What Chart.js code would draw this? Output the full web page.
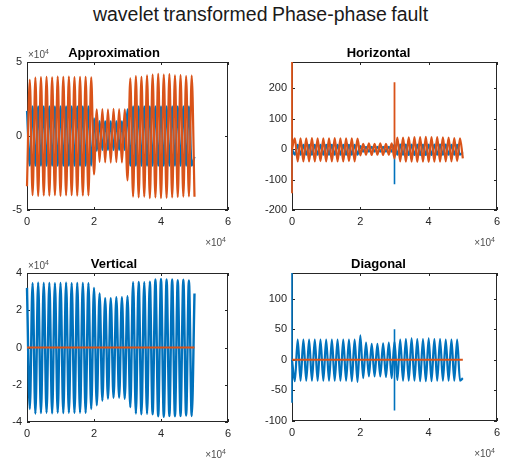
<!DOCTYPE html>
<html lang="en">
<head>
<meta charset="UTF-8">
<title>wavelet transformed Phase-phase fault</title>
<script src="https://cdn.jsdelivr.net/npm/chart.js"></script>
<style>
    body { margin: 0; background: #fff; }
    #page { position: relative; width: 521px; height: 463px; font-family: "Liberation Sans", Arial, sans-serif; }
    #mainTitle { position: absolute; left: 0; top: 5px; width: 521px; text-align: center; font-size: 19.5px; line-height: 1; color: #1a1a1a; word-spacing: -1px; }
    canvas { position: absolute; }
</style>
</head>
<body>
<div id="page">
    <div id="mainTitle">wavelet transformed Phase-phase fault</div>
    <canvas id="approxChart" width="260" height="210" style="left:0;top:40px"></canvas>
    <canvas id="horizChart" width="261" height="210" style="left:260px;top:40px"></canvas>
    <canvas id="vertChart" width="260" height="213" style="left:0;top:250px"></canvas>
    <canvas id="diagChart" width="261" height="213" style="left:260px;top:250px"></canvas>
</div>

<script>
// sample positions of each half-cycle extremum (samples)
const tHalf = [0, 833, 1667, 2500, 3333, 4167, 5000, 5833, 6667, 7500, 8333, 9167, 10000,
    10833, 11667, 12500, 13333, 14167, 15000, 15833, 16667, 17500, 18333, 19167, 20000,
    20833, 21667, 22500, 23333, 24167, 25000, 25833, 26667, 27500, 28333, 29167, 30000,
    30833, 31667, 32500, 33333, 34167, 35000, 35833, 36667, 37500, 38333, 39167, 40000,
    40833, 41667, 42500, 43333, 44167, 45000, 45833, 46667, 47500, 48333, 49167, 50000];

// Approximation
const approxOrange = [-34000, 38000, -40000, 39500, -40500, 39800, -40200, 40000, -40300, 39700, -40000, 40100,
    -40400, 39900, -40100, 40200, -40000, 39800, -40300, 40000, -40200, 39900, -40100, 39700,
    -26000, 18000, -17500, 18200, -17800, 18000, -18000, 18300, -17600, 18100, -17900, 18000,
    -30000, 39000, -41000, 40500, -41500, 40000, -41000, 41000, -42000, 41500, -41500, 42000,
    -42000, 41500, -41800, 41800, -41500, 41000, -41200, 41200, -41000, 40500, -40800, 40800, -41000];
const approxBlue = [17000, -20000, 20000, -20000, 20000, -20000, 20000, -20000, 20000, -20000, 20000, -20000,
    20000, -20000, 20000, -20000, 20000, -20000, 20000, -20000, 20000, -20000, 20000, -20000,
    12000, -10000, 10000, -9500, 10000, -9500, 10000, -9500, 10000, -9500, 10000, -9500,
    18000, -20000, 20000, -20000, 20000, -20000, 20000, -20000, 20000, -20000, 20000, -20000,
    20000, -20000, 20000, -20000, 20000, -20000, 20000, -20000, 20000, -20000, 20000, -20000, -14000];

// Horizontal
const horizOrange = [0, 36, -40, 36, -40, 36, -40, 37, -40, 36, -39, 36,
    -40, 36, -40, 37, -40, 36, -40, 36, -39, 36, -40, 35,
    -20, 18, -18, 19, -19, 18, -18, 19, -19, 18, -18, 19,
    -30, 38, -40, 38, -41, 39, -41, 40, -42, 40, -41, 41,
    -42, 40, -41, 40, -41, 39, -40, 38, -40, 37, -39, 36, -30];
const horizBlue = [0, -18, 14, -18, 14, -18, 14, -18, 14, -18, 14, -18,
    14, -18, 14, -18, 14, -18, 14, -18, 14, -18, 14, -18,
    10, -8, 8, -8, 8, -8, 8, -8, 8, -8, 8, -8,
    14, -18, 15, -18, 15, -19, 15, -19, 15, -19, 15, -19,
    15, -19, 15, -18, 15, -18, 15, -18, 14, -18, 14, -18, -10];
// transients at the start and at the fault clearing
const spikeX = [0, 0, 15000, 30000, 30000];
const horizOrangeSpike = [287, -145, null, 220, -20];
const horizBlueSpike = [0, -140, null, -115, 10];

// Vertical
const vertBlue = [32000, -33000, 34500, -35500, 34800, -35200, 34600, -35000, 34700, -35300, 34500, -35000,
    34600, -35200, 34800, -35000, 34500, -35100, 34700, -35000, 34600, -35100, 34500, -33000,
    32000, -31000, 29000, -28500, 26500, -27500, 26500, -27000, 27000, -27000, 27000, -27500,
    27500, -32000, 35000, -35500, 35200, -35800, 35000, -35600, 35300, -35800, 36500, -37000,
    36800, -37200, 36500, -36800, 36600, -37000, 36200, -36800, 36400, -36500, 36000, -36800, 29000];
const flatX = [0, 50000];
const flatY = [0, 0];

// Diagonal
const diagBlue = [0, -35, 33, -34, 33, -34, 33, -34, 33, -34, 33, -34,
    33, -34, 33, -34, 33, -34, 33, -34, 33, -35, 33, -36,
    40, -30, 28, -27, 26, -27, 26, -27, 27, -28, 28, -30,
    30, -33, 33, -34, 34, -34, 35, -34, 34, -35, 34, -35,
    35, -35, 34, -34, 34, -34, 33, -34, 33, -34, 33, -34, -30];
const diagBlueSpike = [142, -70, null, 50, -83];

const BLUE = "#0072BD";
const ORANGE = "#D95319";
const AXIS = "#262626";

Chart.defaults.font.family = '"Liberation Sans", Arial, Helvetica, sans-serif';

// box round the axes, inward ticks and the x10^4 multipliers, MATLAB style
const matlabAxes = {
    id: "matlabAxes",
    beforeDatasetsDraw(chart) {
        const { ctx, chartArea: a, scales } = chart;
        ctx.save();
        ctx.strokeStyle = AXIS;
        ctx.lineWidth = 1;
        ctx.strokeRect(a.left + 0.5, a.top + 0.5, a.right - a.left - 1, a.bottom - a.top - 1);
        ctx.beginPath();
        scales.x.ticks.forEach(t => {
            const px = Math.round(scales.x.getPixelForValue(t.value)) + 0.5;
            ctx.moveTo(px, a.bottom); ctx.lineTo(px, a.bottom - 3);
            ctx.moveTo(px, a.top); ctx.lineTo(px, a.top + 3);
        });
        scales.y.ticks.forEach(t => {
            const py = Math.round(scales.y.getPixelForValue(t.value)) + 0.5;
            ctx.moveTo(a.left, py); ctx.lineTo(a.left + 3, py);
            ctx.moveTo(a.right, py); ctx.lineTo(a.right - 3, py);
        });
        ctx.stroke();
        ctx.restore();
    },
    afterDraw(chart, args, opts) {
        const { ctx, chartArea: a } = chart;
        ctx.save();
        ctx.fillStyle = "#4d4d4d";
        ctx.textBaseline = "alphabetic";
        const drawExp = (x, y, alignRight) => {
            ctx.font = '10px "Liberation Sans", Arial, sans-serif';
            const w1 = ctx.measureText("\u00d710").width;
            ctx.font = '7px "Liberation Sans", Arial, sans-serif';
            const w2 = ctx.measureText("4").width;
            const x0 = alignRight ? x - w1 - w2 : x;
            ctx.font = '10px "Liberation Sans", Arial, sans-serif';
            ctx.fillText("\u00d710", x0, y);
            ctx.font = '7px "Liberation Sans", Arial, sans-serif';
            ctx.fillText("4", x0 + w1, y - 4);
        };
        drawExp(a.right - 2, a.bottom + 36, true);
        if (opts.yExp) drawExp(a.left + 1, a.top - 4, false);
        ctx.restore();
    }
};

function series(xs, ys, color, order, smooth, width) {
    return {
        data: xs.map((x, i) => ({ x: x, y: ys[i] })),
        borderColor: color,
        borderWidth: width || 2.2,
        pointRadius: 0,
        fill: false,
        tension: 0,
        cubicInterpolationMode: smooth ? "monotone" : "default",
        spanGaps: false,
        clip: 2,
        order: order
    };
}

function onSteps(step) {
    return scale => {
        scale.ticks = scale.ticks.filter(t => Math.abs(t.value / step - Math.round(t.value / step)) < 1e-6);
    };
}

// area = [left, top, right, bottom] of the plot box inside the canvas
function makeSubplot(id, title, area, y, datasets, yExp) {
    const canvas = document.getElementById(id);
    const W = canvas.width, H = canvas.height;
    const tickFont = { size: 11 };
    new Chart(canvas, {
        type: "line",
        data: { datasets: datasets },
        options: {
            responsive: false,
            animation: false,
            events: [],
            layout: { padding: { left: 0, right: W - area[2], top: area[1] - 17.6, bottom: H - area[3] - 20 } },
            plugins: {
                legend: { display: false },
                tooltip: { enabled: false },
                title: { display: true, text: title, color: "#000", font: { size: 13, weight: "bold" }, padding: { top: 1.5, bottom: 0.5 } },
                matlabAxes: { yExp: yExp }
            },
            scales: {
                x: {
                    type: "linear", min: 0, max: 60000,
                    grid: { display: false, drawTicks: false }, border: { display: false },
                    ticks: { stepSize: 20000, padding: 5, maxRotation: 0, autoSkip: false, color: AXIS, font: tickFont,
                        callback: v => String(v / 10000) },
                    afterFit: s => { s.height = 20; }
                },
                y: {
                    type: "linear", min: y.min, max: y.max,
                    grid: { display: false, drawTicks: false }, border: { display: false },
                    ticks: { stepSize: y.step, padding: 5, autoSkip: false, color: AXIS, font: tickFont,
                        callback: v => String(v / y.div) },
                    afterBuildTicks: onSteps(y.step),
                    afterFit: s => { s.width = area[0]; }
                }
            }
        },
        plugins: [matlabAxes]
    });
}

makeSubplot("approxChart", "Approximation", [27, 22, 228, 170],
    { min: -50000, max: 50000, step: 50000, div: 10000 },
    [series(tHalf, approxBlue, BLUE, 1, true), series(tHalf, approxOrange, ORANGE, 0, true)], true);

makeSubplot("horizChart", "Horizontal", [32, 22, 237, 170],
    { min: -200, max: 287, step: 100, div: 1 },
    [series(tHalf, horizBlue, BLUE, 3, true), series(spikeX, horizBlueSpike, BLUE, 2, false, 1.6),
     series(tHalf, horizOrange, ORANGE, 1, true), series(spikeX, horizOrangeSpike, ORANGE, 0, false, 1.8)], false);

makeSubplot("vertChart", "Vertical", [27, 23, 228, 172],
    { min: -40000, max: 40000, step: 20000, div: 10000 },
    [series(tHalf, vertBlue, BLUE, 1, true, 2.4), series(flatX, flatY, ORANGE, 0, false, 2)], true);

makeSubplot("diagChart", "Diagonal", [32, 23, 237, 171],
    { min: -100, max: 142, step: 50, div: 1 },
    [series(tHalf, diagBlue, BLUE, 2, true), series(spikeX, diagBlueSpike, BLUE, 1, false, 1.6),
     series(flatX, flatY, ORANGE, 0, false, 2)], false);
</script>
</body>
</html>
